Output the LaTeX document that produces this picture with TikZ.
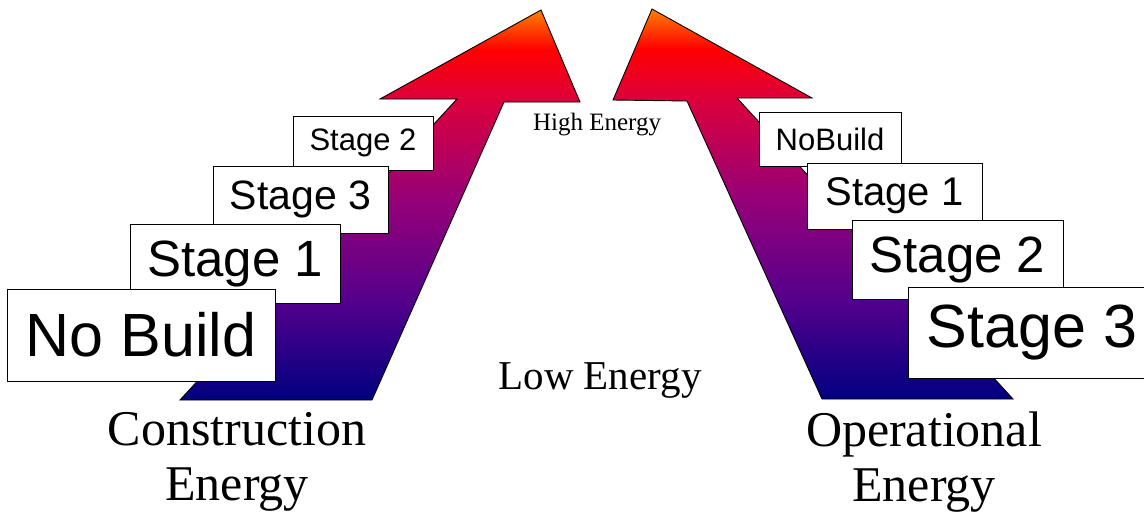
\documentclass[tikz,border=0pt]{standalone}
\usepackage{fontspec}
\setmainfont{Liberation Serif}
\newfontfamily\boxfont{Liberation Sans}
\definecolor{energylow}{RGB}{0,0,128}
\definecolor{energylm}{RGB}{85,0,140}
\definecolor{energymid}{RGB}{150,0,120}
\definecolor{energyhm}{RGB}{220,0,60}
\definecolor{energyhigh}{RGB}{255,0,0}
\definecolor{energytip}{RGB}{255,128,0}
\pgfdeclareverticalshading{energyshade}{100bp}{color(0bp)=(energylow); color(25bp)=(energylow); color(37.8bp)=(energylm); color(50.6bp)=(energymid); color(63.5bp)=(energyhm); color(69.9bp)=(energyhigh); color(75bp)=(energytip); color(100bp)=(energytip)}

\begin{document}
\begin{tikzpicture}[x=1pt,y=-1pt,
    stagebox/.style={draw=black,fill=white,line width=0.8pt,inner sep=0pt,font=\boxfont},
    bigarrow/.style={shading=energyshade,draw=black,line width=0.9pt}]
    \useasboundingbox (0,0) rectangle (1144,517);
    % the two arrows
    \shadedraw[bigarrow] (541,10) -- (580,102) -- (504,102) -- (372,400) -- (180,400) -- (457,99) -- (380,99) -- cycle;
    \shadedraw[bigarrow] (652,9) -- (613,100) -- (687,101) -- (822,399) -- (1013,399) -- (737,98) -- (812,98) -- cycle;
    % construction side, back to front
    \foreach \nm/\txt/\cx/\cy/\w/\h/\fs in {ls2/Stage 2/363/143/140/54/31, ls3/Stage 3/300.5/199.5/175/67/41,
            ls1/Stage 1/235/263.5/210/79/51, lnb/No Build/141/335/268/92/61} {
            \node[stagebox,minimum width=\w,minimum height=\h,font=\boxfont\fontsize{\fs}{\fs}\selectfont] (\nm) at (\cx,\cy) {\txt};
        }
    % operational side, back to front
    \foreach \nm/\txt/\cx/\cy/\w/\h/\fs in {rnb/NoBuild/830/139/142/54/31, rs1/Stage 1/894.5/196/175/66/40,
            rs2/Stage 2/957.5/259.5/211/79/51, rs3/Stage 3/1032/332.5/248/91/61} {
            \node[stagebox,minimum width=\w,minimum height=\h,font=\boxfont\fontsize{\fs}{\fs}\selectfont] (\nm) at (\cx,\cy) {\txt};
        }
    \node[font=\fontsize{25}{25}\selectfont] (high) at (597,125) {High Energy};
    \node[font=\fontsize{41}{41}\selectfont] (low) at (600,380) {Low Energy};
    \node[align=center,font=\fontsize{50}{55}\selectfont] (cons) at (237,462) {Construction\\Energy};
    \node[align=center,font=\fontsize{50}{55}\selectfont] (oper) at (924,462) {Operational\\Energy};
\end{tikzpicture}
\end{document}
